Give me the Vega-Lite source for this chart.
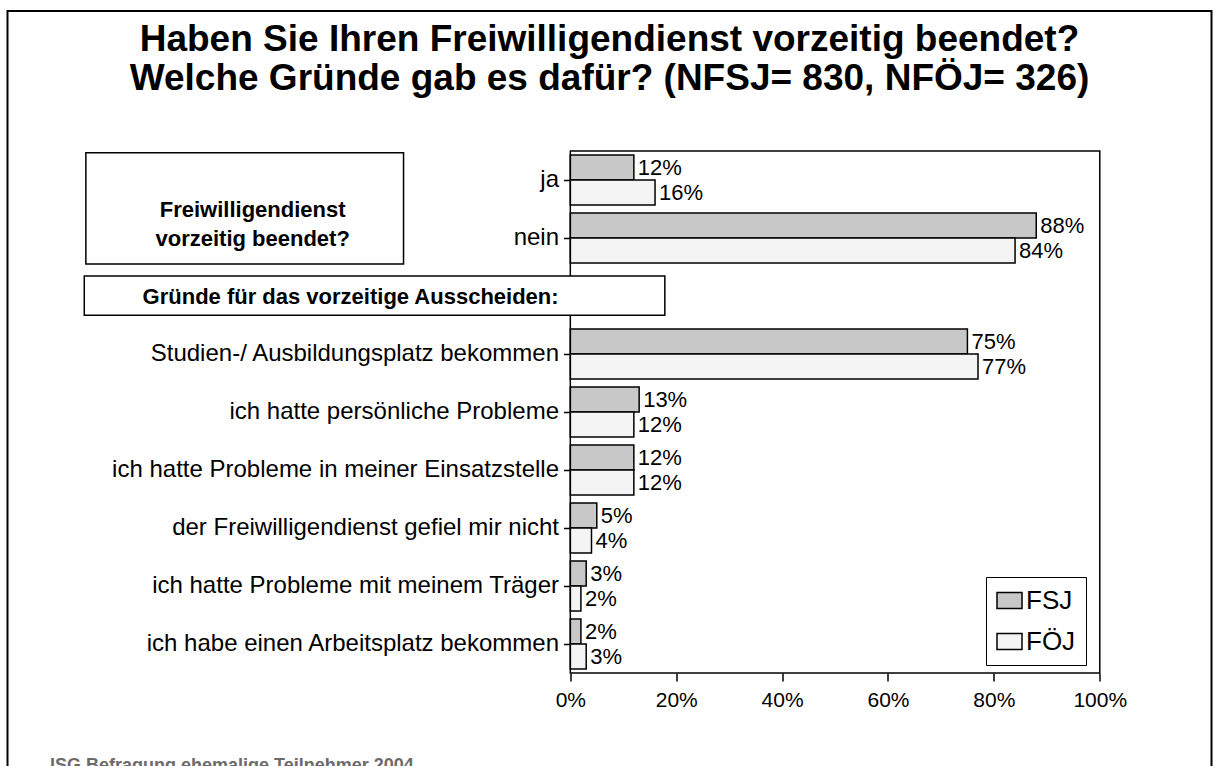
{
  "$schema": "https://vega.github.io/schema/vega-lite/v6.json",
  "autosize": {"type": "none"},
  "width": 1204,
  "height": 802,
  "padding": {"left": 7.5, "top": 11, "right": 7.5, "bottom": 0},
  "background": "white",
  "title": {
    "text": ["Haben Sie Ihren Freiwilligendienst vorzeitig beendet?", "Welche Gründe gab es dafür? (NFSJ= 830, NFÖJ= 326)"],
    "anchor": "middle",
    "frame": "group",
    "font": "Liberation Sans",
    "fontSize": 37,
    "fontWeight": "bold",
    "color": "black",
    "lineHeight": 39,
    "baseline": "top",
    "offset": -87
  },
  "datasets": {
    "bars": [
      {"cat": "ja", "series": "FSJ", "value": 12},
      {"cat": "ja", "series": "FÖJ", "value": 16},
      {"cat": "nein", "series": "FSJ", "value": 88},
      {"cat": "nein", "series": "FÖJ", "value": 84},
      {"cat": "Studien-/ Ausbildungsplatz bekommen", "series": "FSJ", "value": 75},
      {"cat": "Studien-/ Ausbildungsplatz bekommen", "series": "FÖJ", "value": 77},
      {"cat": "ich hatte persönliche Probleme", "series": "FSJ", "value": 13},
      {"cat": "ich hatte persönliche Probleme", "series": "FÖJ", "value": 12},
      {"cat": "ich hatte Probleme in meiner Einsatzstelle", "series": "FSJ", "value": 12},
      {"cat": "ich hatte Probleme in meiner Einsatzstelle", "series": "FÖJ", "value": 12},
      {"cat": "der Freiwilligendienst gefiel mir nicht", "series": "FSJ", "value": 5},
      {"cat": "der Freiwilligendienst gefiel mir nicht", "series": "FÖJ", "value": 4},
      {"cat": "ich hatte Probleme mit meinem Träger", "series": "FSJ", "value": 3},
      {"cat": "ich hatte Probleme mit meinem Träger", "series": "FÖJ", "value": 2},
      {"cat": "ich habe einen Arbeitsplatz bekommen", "series": "FSJ", "value": 2},
      {"cat": "ich habe einen Arbeitsplatz bekommen", "series": "FÖJ", "value": 3}
    ],
    "box1": [{"t": "Freiwilligendienst\nvorzeitig beendet?"}],
    "box2": [{"t": "Gründe für das vorzeitige Ausscheiden:"}],
    "frame": [{"t": "frame"}]
  },
  "layer": [
    {
      "data": {"name": "bars"},
      "mark": {"type": "bar", "stroke": "black", "strokeWidth": 1.5},
      "encoding": {
        "y": {
          "field": "cat",
          "type": "nominal",
          "sort": null,
          "scale": {
            "domain": ["ja", "nein", " ", "Studien-/ Ausbildungsplatz bekommen", "ich hatte persönliche Probleme", "ich hatte Probleme in meiner Einsatzstelle", "der Freiwilligendienst gefiel mir nicht", "ich hatte Probleme mit meinem Träger", "ich habe einen Arbeitsplatz bekommen"],
            "range": [140, 662],
            "paddingInner": 0,
            "paddingOuter": 0
          },
          "axis": {
            "orient": "left",
            "offset": -563,
            "domain": false,
            "title": null,
            "tickSize": 7,
            "tickWidth": 1.5,
            "tickColor": {"condition": {"test": "datum.value === ' '", "value": "transparent"}, "value": "black"},
            "labelPadding": 5,
            "labelFontSize": 24,
            "labelFont": "Liberation Sans",
            "labelColor": "black",
            "labelLimit": 700
          }
        },
        "yOffset": {
          "field": "series",
          "type": "nominal",
          "sort": null,
          "scale": {"domain": ["FSJ", "FÖJ"], "paddingInner": 0, "paddingOuter": 0.16}
        },
        "x": {
          "field": "value",
          "type": "quantitative",
          "scale": {"domain": [-106.3, 121.1], "nice": false, "zero": false},
          "axis": {
            "orient": "bottom",
            "offset": -140,
            "values": [0, 20, 40, 60, 80, 100],
            "labelExpr": "datum.value + '%'",
            "domain": false,
            "grid": false,
            "tickSize": 8,
            "tickWidth": 1.5,
            "tickColor": "black",
            "labelFontSize": 21,
            "labelFont": "Liberation Sans",
            "labelColor": "black",
            "labelPadding": 8,
            "labelFlush": false,
            "title": "ISG Befragung ehemalige Teilnehmer 2004",
            "titleFont": "Liberation Sans",
            "titleFontSize": 18,
            "titleFontWeight": "bold",
            "titleColor": "#6b6b6b",
            "titleAlign": "left",
            "titleBaseline": "alphabetic",
            "titleAnchor": "start",
            "titleX": 42,
            "titleY": 97
          }
        },
        "color": {
          "field": "series",
          "type": "nominal",
          "sort": null,
          "scale": {"domain": ["FSJ", "FÖJ"], "range": ["#c8c8c8", "#f4f4f4"]},
          "legend": {
            "orient": "none",
            "legendX": 978.5,
            "legendY": 566,
            "title": null,
            "strokeColor": "black",
            "fillColor": "white",
            "padding": 10,
            "labelFontSize": 26,
            "labelFont": "Liberation Sans",
            "labelColor": "black",
            "labelOffset": 3,
            "rowPadding": 14,
            "symbolType": "M-1,-0.64H1V0.64H-1Z",
            "symbolSize": 625,
            "symbolStrokeColor": "black",
            "symbolStrokeWidth": 1.5
          }
        }
      }
    },
    {
      "data": {"name": "bars"},
      "mark": {"type": "text", "align": "left", "baseline": "middle", "dx": 4, "fontSize": 22, "font": "Liberation Sans", "color": "black"},
      "encoding": {
        "y": {"field": "cat", "type": "nominal", "sort": null},
        "yOffset": {"field": "series", "type": "nominal", "sort": null},
        "x": {"field": "value", "type": "quantitative"},
        "text": {"value": {"expr": "datum.value + '%'"}}
      }
    },
    {
      "data": {"name": "frame"},
      "mark": {"type": "rect", "fill": null, "stroke": "black", "strokeWidth": 1.5},
      "encoding": {
        "x": {"datum": 0, "type": "quantitative"},
        "x2": {"datum": 100},
        "y": {"datum": "ja", "type": "nominal", "bandPosition": 0},
        "y2": {"datum": "ich habe einen Arbeitsplatz bekommen", "bandPosition": 1}
      }
    },
    {
      "data": {"name": "box1"},
      "mark": {"type": "rect", "fill": "white", "stroke": "black", "strokeWidth": 1.5},
      "encoding": {
        "x": {"datum": -91.5, "type": "quantitative"},
        "x2": {"datum": -31.5},
        "y": {"datum": "ja", "type": "nominal", "bandPosition": 0.03},
        "y2": {"datum": "nein", "bandPosition": 0.95}
      }
    },
    {
      "data": {"name": "box1"},
      "mark": {"type": "text", "align": "center", "baseline": "middle", "lineBreak": "\n", "lineHeight": 29, "fontSize": 22, "fontWeight": "bold", "font": "Liberation Sans", "color": "black"},
      "encoding": {
        "x": {"datum": -60, "type": "quantitative"},
        "y": {"datum": "nein", "type": "nominal", "bandPosition": 0.02},
        "text": {"field": "t", "type": "nominal"}
      }
    },
    {
      "data": {"name": "box2"},
      "mark": {"type": "rect", "fill": "white", "stroke": "black", "strokeWidth": 1.5},
      "encoding": {
        "x": {"datum": -91.8, "type": "quantitative"},
        "x2": {"datum": 17.85},
        "y": {"datum": " ", "type": "nominal", "bandPosition": 0.155},
        "y2": {"datum": " ", "bandPosition": 0.83}
      }
    },
    {
      "data": {"name": "box2"},
      "mark": {"type": "text", "align": "center", "baseline": "middle", "fontSize": 22, "fontWeight": "bold", "font": "Liberation Sans", "color": "black"},
      "encoding": {
        "x": {"datum": -41.5, "type": "quantitative"},
        "y": {"datum": " ", "type": "nominal", "bandPosition": 0.52},
        "text": {"field": "t", "type": "nominal"}
      }
    }
  ],
  "config": {
    "font": "Liberation Sans",
    "view": {"stroke": "black", "strokeWidth": 2},
    "axis": {"grid": false}
  }
}
